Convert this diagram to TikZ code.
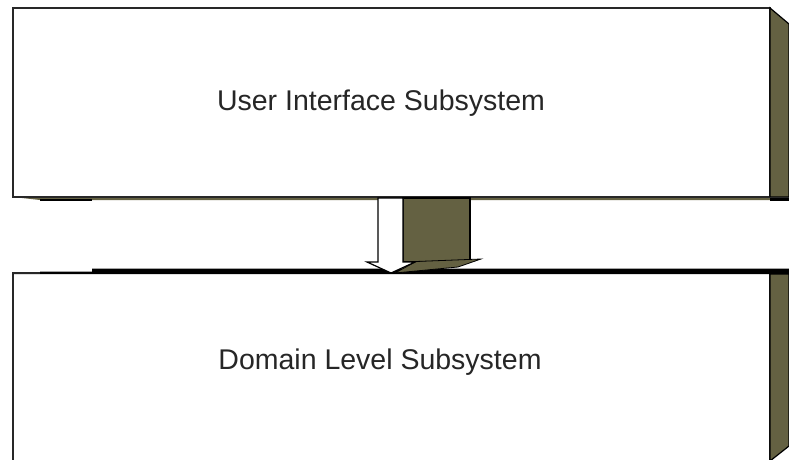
\documentclass[tikz,border=0pt]{standalone}
\usepackage{fontspec}
\setmainfont{Liberation Sans}
\definecolor{olive3d}{RGB}{100,97,66}
\definecolor{edge}{RGB}{40,40,40}
\begin{document}
\begin{tikzpicture}[x=1pt,y=-1pt,
  frontface/.style={fill=white,draw=edge,line width=2pt},
  sideface/.style={fill=olive3d,draw=black,line width=1.2pt,line join=miter},
  thinface/.style={fill=black,draw=none},
  label/.style={font=\fontsize{28.5}{34}\selectfont,text=black!85}]
\useasboundingbox (0,0) rectangle (789,460);
\begin{scope}
\clip (0,0) rectangle (789,460);
% upper box: front face, right side face, bottom strip
\draw[frontface] (13,8) -- (770,8) -- (770,197) -- (13,197) -- cycle;
\draw[sideface] (770,8) -- (789,24) -- (789,197) -- (770,197) -- cycle;
\fill[olive3d] (13,197) -- (789,197) -- (789,200) -- (40,200) -- cycle;
\fill[black] (40,198.5) -- (92,198.5) -- (92,200.5) -- (40,200.5) -- cycle;
\fill[black] (770,198) -- (789,198) -- (789,201) -- (770,201) -- cycle;
\draw[edge,line width=1pt] (13,197) -- (789,197);
% lower box: top strip, front face, right side face
\draw[frontface] (13,273) -- (770,273) -- (770,470) -- (13,470) -- cycle;
\fill[black] (13,274) -- (40,274) -- (40,271.5) -- (92,271.5) -- (92,268.5) -- (789,268.5) -- (789,274) -- (13,274) -- cycle;
\draw[sideface] (770,274) -- (789,274) -- (789,446) -- (770,461) -- cycle;
\end{scope}
% block arrow between the boxes
\draw[sideface] (403,198) -- (470,198) -- (470,262) -- (403,262) -- cycle;
\fill[olive3d,draw=black,line width=0.8pt] (403,262) -- (481,259) -- (458,267) -- (395,273) -- (415,262) -- cycle;
\draw[fill=white,draw=black,line width=1.2pt,line join=miter]
  (378,198) -- (403,198) -- (403,262) -- (415,262) -- (391,273) -- (367,262) -- (378,262) -- cycle;
% labels
\node[label] (ui) at (381,103) {User Interface Subsystem};
\node[label] (dom) at (380,362) {Domain Level Subsystem};
\end{tikzpicture}
\end{document}
